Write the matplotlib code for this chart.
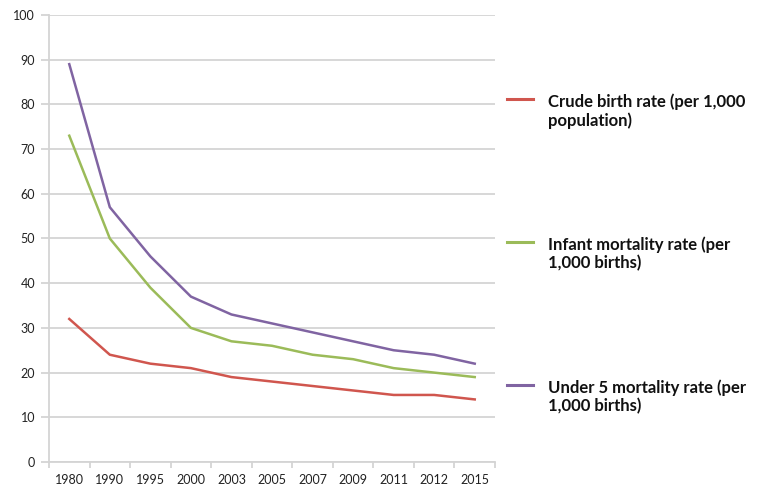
import matplotlib
matplotlib.use("Agg")
import matplotlib.pyplot as plt
import numpy as np

years = ["1980", "1990", "1995", "2000", "2003", "2005", "2007", "2009", "2011", "2012", "2015"]
crude_birth = [32, 24, 22, 21, 19, 18, 17, 16, 15, 15, 14]
infant_mort = [73, 50, 39, 30, 27, 26, 24, 23, 21, 20, 19]
under5_mort = [89, 57, 46, 37, 33, 31, 29, 27, 25, 24, 22]

labels = ["Crude birth rate (per 1,000\npopulation)",
          "Infant mortality rate (per\n1,000 births)",
          "Under 5 mortality rate (per\n1,000 births)"]
colors = ["#d0564e", "#9bbb59", "#8064a2"]

plt.rcParams["font.family"] = ["Lato", "DejaVu Sans"]

W, H = 764, 491
fig = plt.figure(figsize=(W / 100, H / 100), dpi=100)
ax = fig.add_axes([49 / W, (H - 462) / H, 446 / W, 447 / H])

x = np.arange(len(years))
for vals, c in zip([crude_birth, infant_mort, under5_mort], colors):
    ax.plot(x, vals, color=c, lw=1.8, solid_joinstyle="round")

ax.set_xlim(-0.5, len(years) - 0.5)
ax.set_ylim(0, 100)
ax.set_yticks(np.arange(0, 101, 10))
ax.grid(axis="y", color="#d4d4d4", lw=1.3)
ax.set_axisbelow(True)
ax.set_xticks(x)
ax.set_xticklabels(years)
ax.set_xticks(np.arange(-0.5, len(years), 1), minor=True)
ax.tick_params(axis="x", which="major", length=0, pad=9, labelsize=9, colors="#222222")
ax.tick_params(axis="x", which="minor", length=4, width=1.3, color="#d4d4d4")
ax.tick_params(axis="y", length=6, width=1.3, color="#d4d4d4", pad=4, labelsize=9,
               labelcolor="#222222")
for s in ["top", "right"]:
    ax.spines[s].set_visible(False)
for s in ["left", "bottom"]:
    ax.spines[s].set_color("#d4d4d4")
    ax.spines[s].set_linewidth(1.3)

# legend drawn by hand: handle sits level with the first text line
handle_y = [99, 242, 385]  # pixel rows from the top
for lab, c, py in zip(labels, colors, handle_y):
    fy = 1 - py / H
    fig.add_artist(plt.Line2D([507 / W, 533 / W], [fy, fy], color=c, lw=2.2))
    fig.text(548 / W, 1 - (py - 6) / H, lab, ha="left", va="top",
             fontsize=12, fontweight="bold", color="#111111", linespacing=1.2)

fig.savefig("out.png", dpi=100)
